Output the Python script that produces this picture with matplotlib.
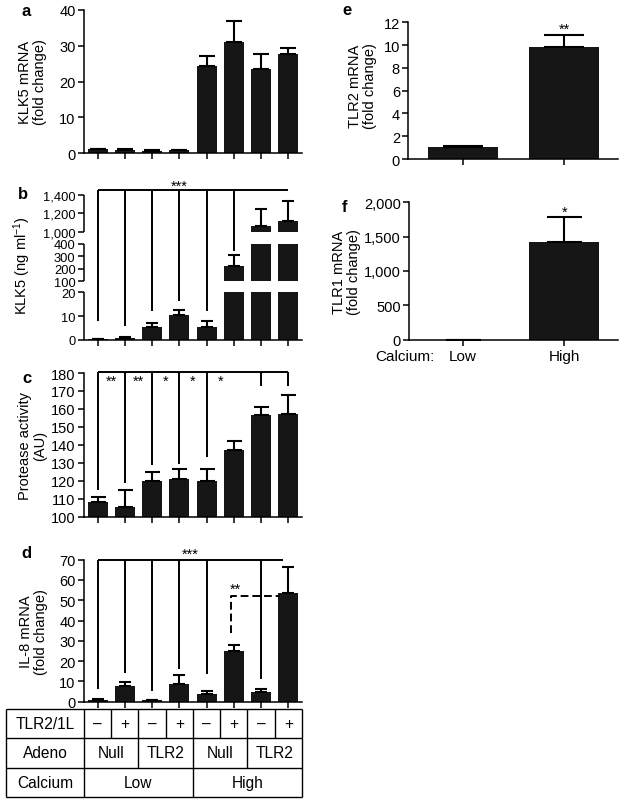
import numpy as np
import matplotlib
matplotlib.use('Agg')
import matplotlib.pyplot as plt
from matplotlib.ticker import FuncFormatter

plt.rcParams['font.family'] = ['Liberation Sans', 'DejaVu Sans']
plt.rcParams['mathtext.fontset'] = 'custom'
plt.rcParams['mathtext.rm'] = 'Liberation Sans'
plt.rcParams['mathtext.default'] = 'regular'

# ---- data ----
bars = np.arange(8)

klk5_mrna = [1.0, 0.9, 0.6, 0.7, 24.2, 31.0, 23.5, 27.7]
klk5_mrna_err = [0.15, 0.1, 0.1, 0.1, 3.0, 5.8, 4.3, 1.6]

klk5_prot = [0.3, 0.8, 5.5, 10.5, 5.5, 218, 1065, 1120]
klk5_prot_err = [0.2, 0.3, 1.5, 2.0, 2.3, 91, 180, 215]
klk5_sig_from = [8, 6, 12, 16.4, 12, 340]     # lower ends of the *** brackets
klk5_sig_level = 1450

protease = [108, 105.5, 120, 121, 120, 137, 156.5, 157]
protease_err = [3, 9.5, 5, 5.5, 6.5, 5, 4.5, 11]
protease_sig_bars = [0, 1, 2, 3, 4, 6, 7]
protease_sig_from = [115, 118.8, 128.8, 129.3, 133, 173, 173]
protease_stars = ['**', '**', '*', '*', '*']
protease_sig_level = 180.5

il8 = [1.0, 7.5, 0.7, 8.5, 4.0, 25.0, 5.0, 53.5]
il8_err = [0.5, 2.0, 0.3, 4.5, 1.5, 2.8, 1.5, 13]
il8_sig_bars = [0, 1, 2, 3, 4, 6]
il8_sig_from = [6.3, 14.2, 5.4, 16.1, 13.6, 11.2]
il8_sig_level = 70
il8_dash_from, il8_dash_level = 34, 52

tlr2 = [1.05, 9.8]
tlr2_err = [0.12, 1.1]
tlr1 = [1.0, 1420]
tlr1_err = [0.0, 360]

treatment = ['–', '+', '–', '+', '–', '+', '–', '+']
adeno = ['Null', 'TLR2', 'Null', 'TLR2']
calcium = ['Low', 'High']

# broken axis of panel b: value knots -> relative height
b_val_knots = [0, 20, 100, 400, 1000, 1400, 3000]
b_pos_knots = [0, 48, 59, 96.3, 108.3, 145.3, 293.3]
b_segments = [(0, 20), (100, 400), (1000, 1400)]
b_gaps = [(20, 100), (400, 1000)]

W, H = 624, 803
fig = plt.figure(figsize=(W / 100, H / 100), dpi=100)
BAR = '#161616'
TS = 10.5
STAR = 10.5


def px_axes(l, t, r, b):
    return fig.add_axes([l / W, 1 - b / H, (r - l) / W, (b - t) / H])


def style(ax):
    for s in ['top', 'right']:
        ax.spines[s].set_visible(False)
    for s in ['left', 'bottom']:
        ax.spines[s].set_linewidth(1.1)
    ax.tick_params(length=4, width=1.1, pad=2, labelsize=TS)
    ax.tick_params(axis='x', labelbottom=False)


def draw_bars(ax, x, vals, errs, cap, width=0.74):
    ax.bar(x, vals, width=width, color=BAR, zorder=2)
    ax.errorbar(x, vals, yerr=[np.zeros(len(vals)), errs], fmt='none',
                ecolor='k', elinewidth=1.5, capsize=cap, capthick=1.5, zorder=2.5)


comma = FuncFormatter(lambda v, p: f'{v:,.0f}')

# ---- a ----
ax = px_axes(84, 11, 302, 154)
style(ax)
draw_bars(ax, bars, klk5_mrna, klk5_mrna_err, 5.5)
ax.set_xlim(-0.5, 7.5)
ax.set_ylim(0, 40)
ax.set_yticks([0, 10, 20, 30, 40])
ax.set_xticks(bars)
ax.set_ylabel('KLK5 mRNA\n(fold change)', fontsize=TS, linespacing=1.05)
ax.yaxis.set_label_coords(-0.17, 0.5)

# ---- b ----
ax = px_axes(84, 196, 302, 341)
style(ax)
ax.tick_params(axis='y', labelsize=9.3)
ax.set_yscale('function', functions=(lambda v: np.interp(v, b_val_knots, b_pos_knots),
                                     lambda p: np.interp(p, b_pos_knots, b_val_knots)))
draw_bars(ax, bars, klk5_prot, klk5_prot_err, 4.3)
for lo, hi in b_gaps:
    ax.axhspan(lo, hi, color='white', lw=0, zorder=3)
ax.spines['left'].set_visible(False)
for lo, hi in b_segments:
    ax.vlines(0, lo, hi, transform=ax.get_yaxis_transform(), color='k', lw=1.1, clip_on=False)
for i, lo in enumerate(klk5_sig_from):
    ax.vlines(bars[i], lo, klk5_sig_level, color='k', lw=1.4, zorder=4, clip_on=False)
ax.hlines(klk5_sig_level, bars[0], bars[-1], color='k', lw=1.4, zorder=4, clip_on=False)
ax.text(3.0, klk5_sig_level + 8, '***', ha='center', va='baseline', fontsize=STAR)
ax.set_xlim(-0.5, 7.5)
ax.set_ylim(0, 1400)
ax.set_yticks([0, 10, 20, 100, 200, 300, 400, 1000, 1200, 1400])
ax.yaxis.set_major_formatter(comma)
ax.set_xticks(bars)
ax.set_ylabel('KLK5 (ng ml$^{-1}$)', fontsize=TS)
ax.yaxis.set_label_coords(-0.234, 0.52)

# ---- c ----
ax = px_axes(84, 374, 302, 517.7)
style(ax)
draw_bars(ax, bars, protease, protease_err, 5.4)
for b, lo in zip(protease_sig_bars, protease_sig_from):
    ax.vlines(b, lo, protease_sig_level, color='k', lw=1.4, zorder=4, clip_on=False)
ax.hlines(protease_sig_level, bars[0], bars[-1], color='k', lw=1.4, zorder=4, clip_on=False)
for i, s in enumerate(protease_stars):
    ax.text(bars[i] + 0.5, 173.5, s, ha='center', va='baseline', fontsize=STAR)
ax.set_xlim(-0.5, 7.5)
ax.set_ylim(100, 180)
ax.set_yticks(np.arange(100, 181, 10))
ax.set_xticks(bars)
ax.set_ylabel('Protease activity\n(AU)', fontsize=TS, linespacing=1.05)
ax.yaxis.set_label_coords(-0.17, 0.5)

# ---- d ----
ax = px_axes(84, 560.7, 302, 702.7)
style(ax)
draw_bars(ax, bars, il8, il8_err, 4.3)
for b, lo in zip(il8_sig_bars, il8_sig_from):
    ax.vlines(b, lo, il8_sig_level, color='k', lw=1.4, zorder=4, clip_on=False)
ax.hlines(il8_sig_level, bars[0], bars[-1] - 0.2, color='k', lw=1.4, zorder=4, clip_on=False)
ax.text(3.4, 71, '***', ha='center', va='baseline', fontsize=STAR)
ax.plot([4.9, 4.9, 6.7], [il8_dash_from, il8_dash_level, il8_dash_level], color='k',
        lw=1.4, ls=(0, (4, 2)), zorder=4)
ax.text(5.05, 53.8, '**', ha='center', va='baseline', fontsize=STAR)
ax.set_xlim(-0.5, 7.5)
ax.set_ylim(0, 70)
ax.set_yticks(np.arange(0, 71, 10))
ax.set_xticks(bars)
ax.set_ylabel('IL-8 mRNA\n(fold change)', fontsize=TS, linespacing=1.05)
ax.yaxis.set_label_coords(-0.165, 0.5)

# ---- condition table ----
tab = px_axes(6, 710, 302, 798)
tab.axis('off')
tab.set_xlim(-3.36, 7.5)
tab.set_ylim(0, 3)
lk = dict(color='k', lw=1.0, clip_on=False)
tab.hlines([0, 1, 2, 3], -3.36, 7.5, **lk)
tab.vlines([-3.36, -0.5, 7.5], 0, 3, **lk)
tab.vlines(np.arange(0.5, 7, 1), 2, 3, **lk)
tab.vlines([1.5, 3.5, 5.5], 1, 2, **lk)
tab.vlines([3.5], 0, 1, **lk)
tk = dict(ha='center', va='center', fontsize=11.2)
for y, lab in zip([2.5, 1.5, 0.5], ['TLR2/1L', 'Adeno', 'Calcium']):
    tab.text(-1.93, y, lab, **tk)
for x, s in zip(bars, treatment):
    tab.text(x, 2.5, s, **tk)
for x, s in zip([0.5, 2.5, 4.5, 6.5], adeno):
    tab.text(x, 1.5, s, **tk)
for x, s in zip([1.5, 5.5], calcium):
    tab.text(x, 0.5, s, **tk)

# ---- e ----
ax = px_axes(408.3, 23.3, 618, 160)
style(ax)
draw_bars(ax, [0, 1], tlr2, tlr2_err, 14.4, width=0.69)
ax.text(1, 11.1, '**', ha='center', va='baseline', fontsize=STAR)
ax.set_xlim(-0.535, 1.53)
ax.set_ylim(0, 12)
ax.set_yticks(np.arange(0, 13, 2))
ax.set_xticks([0, 1])
ax.set_ylabel('TLR2 mRNA\n(fold change)', fontsize=TS, linespacing=1.05)
ax.yaxis.set_label_coords(-0.151, 0.54)

# ---- f ----
ax = px_axes(409, 203.3, 618, 340.7)
style(ax)
draw_bars(ax, [0, 1], tlr1, tlr1_err, 12.6, width=0.69)
ax.text(1, 1800, '*', ha='center', va='baseline', fontsize=STAR)
ax.set_xlim(-0.535, 1.53)
ax.set_ylim(0, 2000)
ax.set_yticks(np.arange(0, 2001, 500))
ax.yaxis.set_major_formatter(comma)
ax.set_xticks([0, 1])
ax.set_xticklabels(calcium)
ax.tick_params(axis='x', labelbottom=True, labelsize=11, pad=3)
ax.text(-0.16, -0.119, 'Calcium:', transform=ax.transAxes, ha='left', va='center', fontsize=11)
ax.set_ylabel('TLR1 mRNA\n(fold change)', fontsize=TS, linespacing=1.05)
ax.yaxis.set_label_coords(-0.23, 0.5)

# panel letters
for x, y, s in [(21, 16, 'a'), (18, 199, 'b'), (22, 383, 'c'), (21, 558, 'd'),
                (342, 15, 'e'), (342, 212, 'f')]:
    fig.text(x / W, 1 - y / H, s, fontsize=12, fontweight='bold', va='baseline')

fig.savefig('out.png', dpi=100)
